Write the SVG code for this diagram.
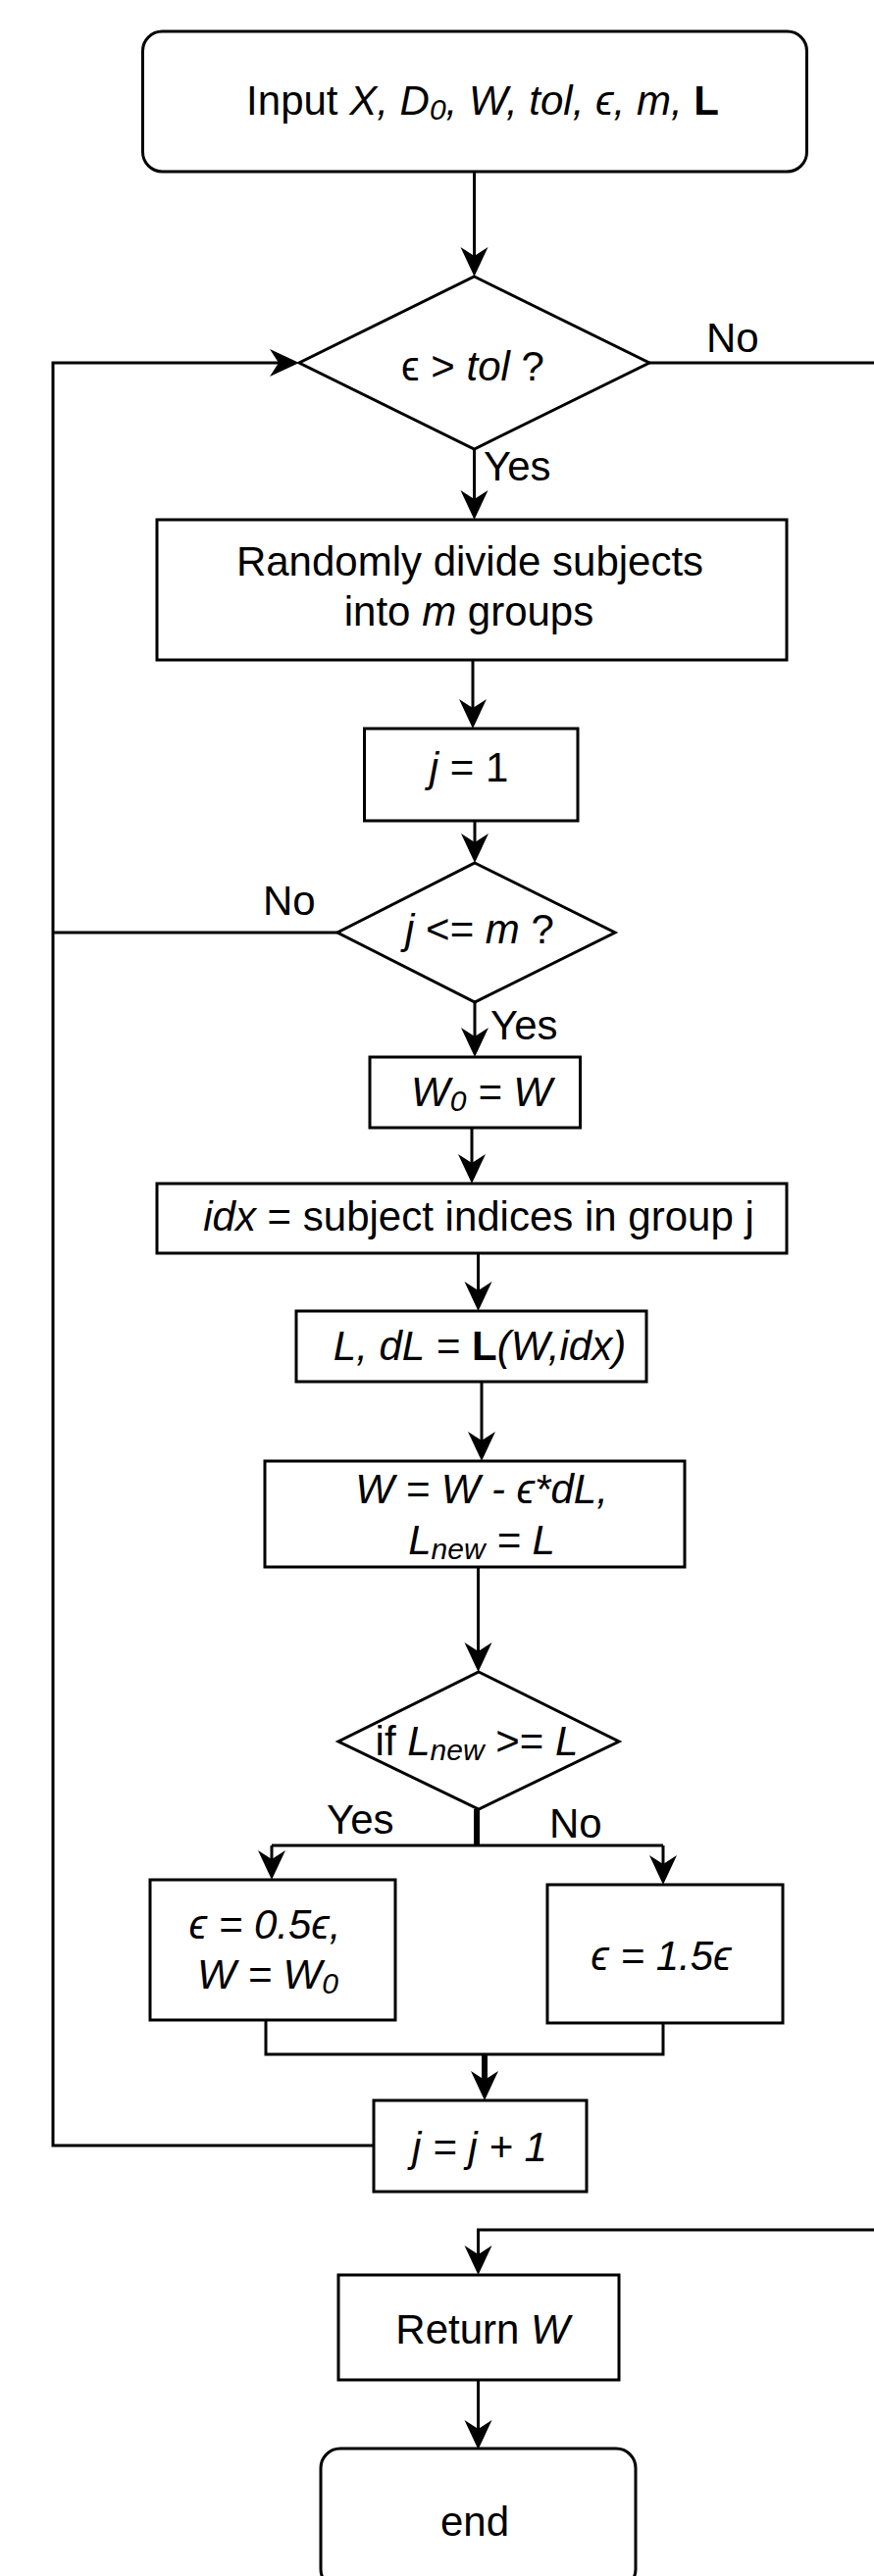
<svg xmlns="http://www.w3.org/2000/svg" width="891" height="2627" viewBox="0 0 891 2627">
<style>
  .shape { fill: #ffffff; stroke: #000000; stroke-width: 3; }
  .line { fill: none; stroke: #000000; stroke-width: 3; stroke-linejoin: miter; }
  .thick { fill: none; stroke: #000000; stroke-width: 6; }
  .arrow { marker-end: url(#arrowhead); }
  text { font-family: "Liberation Sans", Arial, "DejaVu Sans", sans-serif; font-size: 42px; fill: #000000; text-anchor: middle; }
  text.lbl { text-anchor: start; }
  .i { font-style: italic; }
  .b { font-weight: bold; }
  .sub { font-size: 30px; }
</style>
<defs>
  <marker id="arrowhead" markerUnits="userSpaceOnUse" viewBox="-18 -14 30 28" markerWidth="30" markerHeight="28" refX="0" refY="0" orient="auto" overflow="visible">
    <path d="M12,0 L-18,-14 L-9,0 L-18,14 Z" fill="#000000"/>
  </marker>
</defs>
<rect width="891" height="2627" fill="#ffffff"/>

<g id="connectors">
  <path class="line arrow" d="M483.5,175 V270"/>
  <path class="line arrow" d="M483.5,458 V518"/>
  <path class="line arrow" d="M482,673 V731"/>
  <path class="line arrow" d="M484,837 V868"/>
  <path class="line arrow" d="M484,1022 V1066"/>
  <path class="line arrow" d="M481,1150 V1195"/>
  <path class="line arrow" d="M487.5,1278 V1325"/>
  <path class="line arrow" d="M491,1409 V1478"/>
  <path class="line arrow" d="M487.5,1598 V1693"/>
  <path class="thick" d="M486,1845 V1882"/>
  <path class="line" d="M277,1882 H676"/>
  <path class="line arrow" d="M277,1882 V1905"/>
  <path class="line arrow" d="M676,1882 V1910"/>
  <path class="line" d="M271,2060 V2095 H676 V2063"/>
  <path class="thick arrow" d="M494,2095 V2130"/>
  <path class="line arrow" d="M381,2188 H54 V370 H293"/>
  <path class="line" d="M344,951 H54"/>
  <path class="line arrow" d="M662,370 H900 V2274 H487.5 V2308"/>
  <path class="line arrow" d="M487.5,2427 V2486"/>
  <text class="lbl" x="720" y="359">No</text>
  <text class="lbl" x="493" y="490">Yes</text>
  <text class="lbl" x="268" y="933">No</text>
  <text class="lbl" x="500" y="1060">Yes</text>
  <text class="lbl" x="333" y="1870">Yes</text>
  <text class="lbl" x="560" y="1874">No</text>
</g>

<g id="n-input">
  <rect class="shape" x="145.5" y="32" width="677" height="143" rx="20" ry="20"/>
  <text x="492" y="117">Input <tspan class="i">X, D</tspan><tspan class="i sub" dy="5">0</tspan><tspan class="i" dy="-5">, W, tol, ϵ, m, </tspan><tspan class="b">L</tspan></text>
</g>

<g id="n-cond1">
  <polygon class="shape" points="483.5,282 662,370 483.5,458 305,370"/>
  <text x="482" y="388">ϵ &gt; <tspan class="i">tol</tspan> ?</text>
</g>

<g id="n-divide">
  <rect class="shape" x="160" y="530" width="642" height="143"/>
  <text x="479" y="587">Randomly divide subjects</text>
  <text x="478" y="638">into <tspan class="i">m</tspan> groups</text>
</g>

<g id="n-j1">
  <rect class="shape" x="371.5" y="743" width="217.5" height="94"/>
  <text x="478" y="797"><tspan class="i">j</tspan> = 1</text>
</g>

<g id="n-cond2">
  <polygon class="shape" points="484,880 627,951 484,1022 344,951"/>
  <text x="489" y="962"><tspan class="i">j</tspan> &lt;= <tspan class="i">m</tspan> ?</text>
</g>

<g id="n-w0">
  <rect class="shape" x="377" y="1078" width="214.5" height="72"/>
  <text x="491" y="1128" class="i">W<tspan class="sub" dy="5">0</tspan><tspan dy="-5"> = W</tspan></text>
</g>

<g id="n-idx">
  <rect class="shape" x="160" y="1207" width="642" height="71"/>
  <text x="488" y="1255"><tspan class="i">idx</tspan> = subject indices in group j</text>
</g>

<g id="n-loss">
  <rect class="shape" x="302" y="1337" width="357" height="72"/>
  <text x="489" y="1387"><tspan class="i">L, dL</tspan> = <tspan class="b">L</tspan><tspan class="i">(W,idx)</tspan></text>
</g>

<g id="n-update">
  <rect class="shape" x="270" y="1490" width="428" height="108"/>
  <text x="491" y="1533" class="i">W = W - ϵ*dL,</text>
  <text x="491" y="1585" class="i">L<tspan class="sub" dy="5">new</tspan><tspan dy="-5"> = L</tspan></text>
</g>

<g id="n-cond3">
  <polygon class="shape" points="488,1705 631,1776 488,1845 345,1776"/>
  <text x="486" y="1790">if <tspan class="i">L</tspan><tspan class="i sub" dy="5">new</tspan><tspan dy="-5"> &gt;= </tspan><tspan class="i">L</tspan></text>
</g>

<g id="n-yes">
  <rect class="shape" x="153" y="1917" width="250" height="143"/>
  <text x="270" y="1977" class="i">ϵ = 0.5ϵ,</text>
  <text x="273" y="2028" class="i">W = W<tspan class="sub" dy="5">0</tspan></text>
</g>

<g id="n-no">
  <rect class="shape" x="558" y="1922" width="240" height="141"/>
  <text x="674" y="2009" class="i">ϵ = 1.5ϵ</text>
</g>

<g id="n-inc">
  <rect class="shape" x="381" y="2142" width="217" height="93"/>
  <text x="489" y="2204" class="i">j = j + 1</text>
</g>

<g id="n-return">
  <rect class="shape" x="345" y="2320" width="286" height="107"/>
  <text x="492" y="2390">Return <tspan class="i">W</tspan></text>
</g>

<g id="n-end">
  <rect class="shape" x="327" y="2497" width="321" height="143" rx="20" ry="20"/>
  <text x="484" y="2586">end</text>
</g>
</svg>
